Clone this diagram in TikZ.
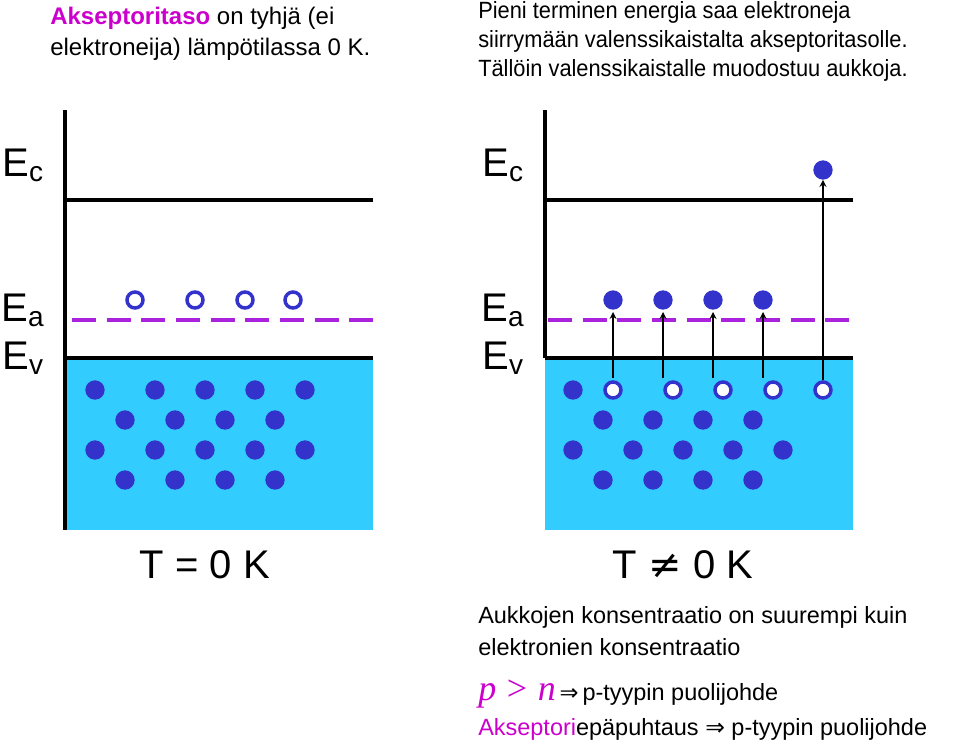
\documentclass[tikz,border=0pt]{standalone}
\usepackage{fontspec}
\setmainfont{Liberation Sans}
\newfontfamily\narrow[FakeStretch=0.93]{Liberation Sans}
\newfontfamily\tms{Liberation Serif}
\newfontfamily\dvs{DejaVu Sans}
\begin{document}
\begin{tikzpicture}[x=0.75pt,y=-0.75pt,
  dot/.style={circle,fill=dotblue,inner sep=0,minimum size=14.5pt},
  hole/.style={circle,draw=dotblue,line width=2.6pt,fill=white,inner sep=0,minimum size=12pt},
  lbl/.style={font=\fontsize{30}{32}\selectfont,inner sep=0},
  txt/.style={font=\narrow\fontsize{17.6}{22}\selectfont,align=left,inner sep=0,anchor=north west}]
\definecolor{dotblue}{HTML}{3333CC}
\definecolor{cyanb}{HTML}{33CCFF}
\definecolor{mag}{HTML}{CC00CC}
\definecolor{purp}{HTML}{AA22DD}
\useasboundingbox (0,0) rectangle (960,744);
% left panel
\fill[cyanb] (65,358) rectangle (373,530);
\draw[line width=2.6pt] (65,110) -- (65,530);
\draw[line width=2.6pt] (65,200) -- (373,200);
\draw[line width=2.6pt] (65,358) -- (373,358);
\draw[purp,line width=3pt,dash pattern=on 18pt off 8pt] (72,320) -- (373,320);
\foreach \x in {135,195,245,293} \node[hole] at (\x,300) {};
\foreach \x in {95,155,205,255,305} {\node[dot] at (\x,390) {}; \node[dot] at (\x,450) {};}
\foreach \x in {125,175,225,275} {\node[dot] at (\x,420) {}; \node[dot] at (\x,480) {};}
\node[lbl] (ec1) at (23,165) {E\textsubscript{c}};
\node[lbl] (ea1) at (23,310) {E\textsubscript{a}};
\node[lbl] (ev1) at (23,358) {E\textsubscript{v}};
\node[lbl] (t1) at (205,565) {T = 0 K};
% right panel
\fill[cyanb] (545,358) rectangle (853,530);
\draw[line width=2.6pt] (545,110) -- (545,358);
\draw[line width=2.6pt] (545,200) -- (853,200);
\draw[line width=2.6pt] (545,358) -- (853,358);
\draw[purp,line width=3pt,dash pattern=on 18pt off 8pt] (548,320) -- (853,320);
\foreach \x in {603,653,703,753} {\node[dot] at (\x,420) {}; \node[dot] at (\x,480) {};}
\foreach \x in {573,633,683,733,783} \node[dot] at (\x,450) {};
\node[dot] at (573,390) {};
\foreach \x/\h in {613/613,663/673,713/723,763/773} {
  \node[dot] (e\x) at (\x,300) {};
  \node[hole] (h\h) at (\h,390) {};
  \coordinate (s\x) at (\x,378);
  \draw[-stealth,line width=1.3pt] (s\x) -- (\x,312);
}
\node[dot] (etop) at (823,170) {};
\node[hole] (hlast) at (823,390) {};
\draw[-stealth,line width=1.3pt] (hlast) -- (etop);
\node[lbl] (ec2) at (503,165) {E\textsubscript{c}};
\node[lbl] (ea2) at (503,310) {E\textsubscript{a}};
\node[lbl] (ev2) at (503,358) {E\textsubscript{v}};
\node[lbl] (t2) at (683,565) {T {\dvs ≠} 0 K};
% texts
\node[txt,font=\fontsize{18}{23}\selectfont] (tl) at (50,7) {{\color{mag}\bfseries Akseptoritaso} on tyhjä (ei\\elektroneija) lämpötilassa 0 K.};
\node[txt] (tr) at (478,1) {Pieni terminen energia saa elektroneja\\siirrymään valenssikaistalta akseptoritasolle.\\Tällöin valenssikaistalle muodostuu aukkoja.};
\node[txt,font=\fontsize{17.6}{24}\selectfont] (b1) at (478,606) {Aukkojen konsentraatio on suurempi kuin\\elektronien konsentraatio};
\node[anchor=west,inner sep=0] (b2) at (478,694) {{\color{mag}\tms\fontsize{27}{28}\selectfont\textit{p}\hspace{8pt}>\hspace{8pt}\textit{n}}{\dvs\fontsize{17}{17}\selectfont\,⇒}{\fontsize{17.6}{17}\selectfont\,p-tyypin puolijohde}};
\node[anchor=west,inner sep=0,font=\fontsize{17.6}{17}\selectfont] (b3) at (478,729) {{\color{mag}Akseptori}epäpuhtaus {\dvs ⇒} p-tyypin puolijohde};
\end{tikzpicture}
\end{document}
